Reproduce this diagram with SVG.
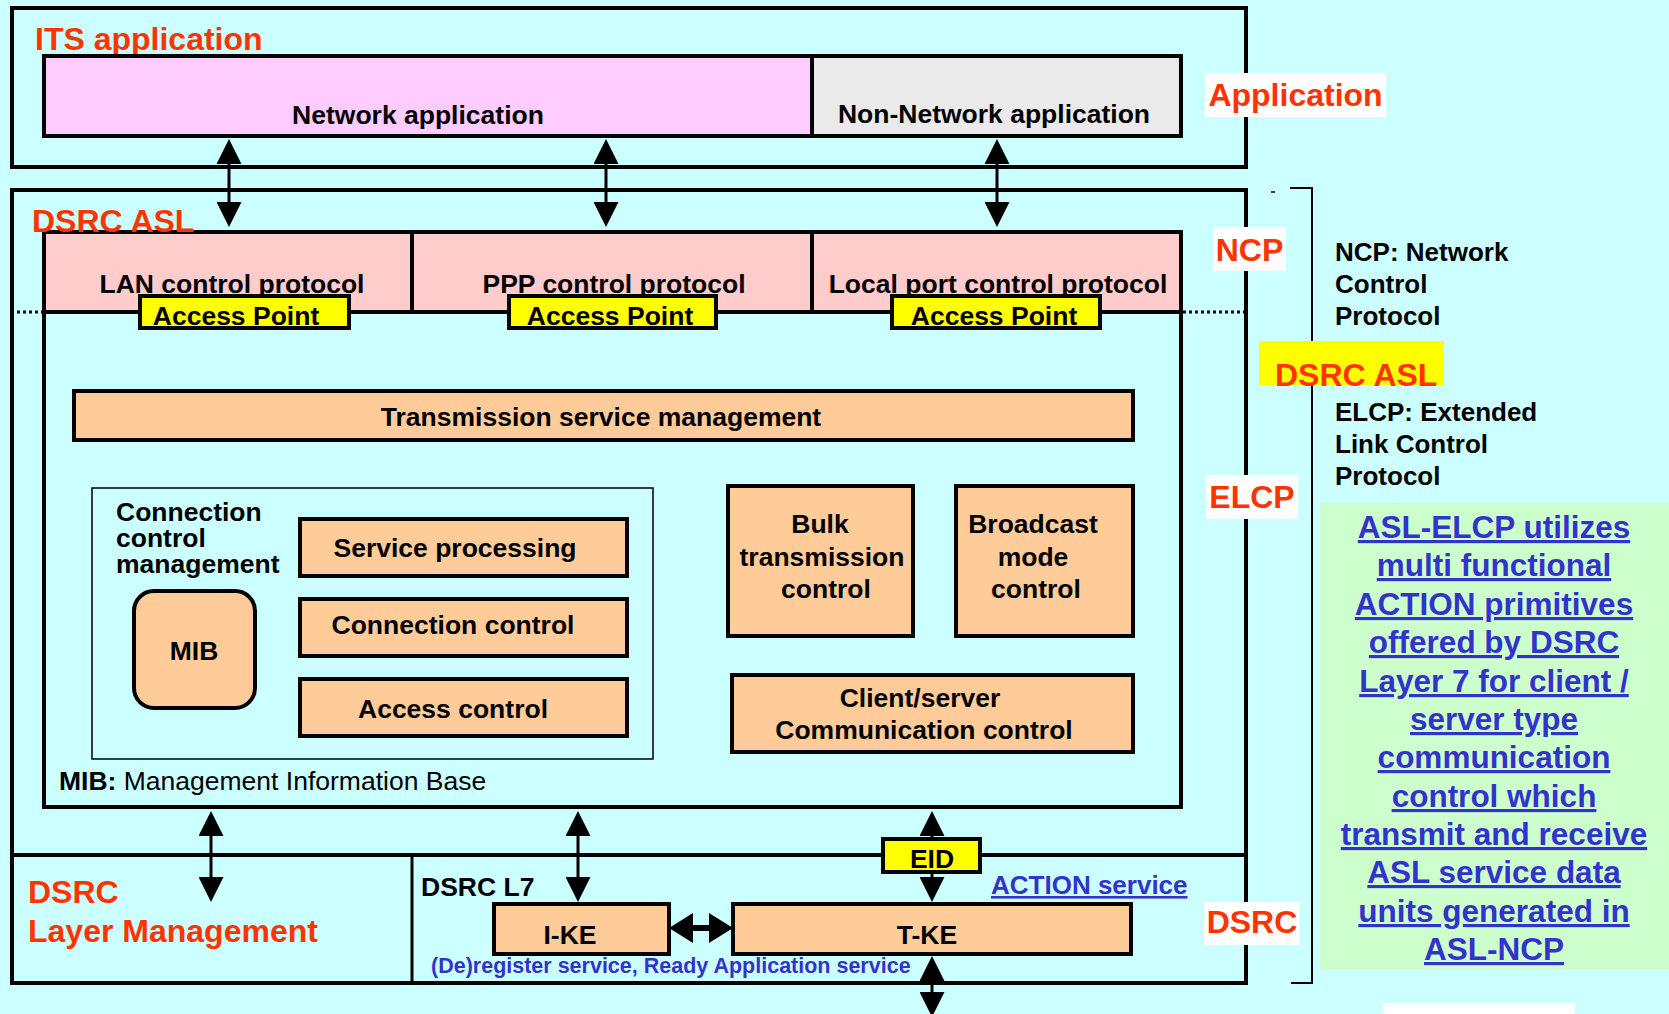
<svg xmlns="http://www.w3.org/2000/svg" width="1669" height="1014" viewBox="0 0 1669 1014">
  <style>
    text { font-family: "Liberation Sans", Arial, Helvetica, sans-serif; font-weight: bold; }
    .box { stroke: #000; stroke-width: 4; }
    .peach { fill: #FFCC99; }
    .yellow { fill: #FFFF00; }
    .lbl { font-size: 26.5px; fill: #000; }
    .red { font-size: 32px; fill: #FF3300; }
    .blue { fill: #3333CC; }
    .note { font-size: 26px; fill: #000; }
    .link { font-size: 31.5px; fill: #3333CC; text-decoration: underline; }
    .arrow { stroke: #000; stroke-width: 3; fill: none; marker-start: url(#ah); marker-end: url(#ah); }
    .harrow { stroke: #000; stroke-width: 6; fill: none; marker-start: url(#ah2); marker-end: url(#ah2); }
  </style>
  <defs>
    <marker id="ah" markerUnits="userSpaceOnUse" markerWidth="25" markerHeight="25" refX="1" refY="12.5" orient="auto-start-reverse">
      <path d="M0,0 L25,12.5 L0,25 z" fill="#000"/>
    </marker>
    <marker id="ah2" markerUnits="userSpaceOnUse" markerWidth="24" markerHeight="30" refX="1" refY="15" orient="auto-start-reverse">
      <path d="M0,0 L24,15 L0,30 z" fill="#000"/>
    </marker>
  </defs>

  <!-- background -->
  <rect x="0" y="0" width="1669" height="1014" fill="#CCFFFF"/>

  <!-- application layer frame -->
  <g id="its-application">
    <rect x="12" y="8" width="1234" height="159" fill="none" class="box"/>
    <text x="35" y="50" class="red">ITS application</text>
  </g>
  <g id="network-application">
    <rect x="44" y="56" width="768" height="80" fill="#FFCCFF" class="box"/>
    <text x="418" y="124" class="lbl" text-anchor="middle">Network application</text>
  </g>
  <g id="non-network-application">
    <rect x="812" y="56" width="369" height="80" fill="#EAEAEA" class="box"/>
    <text x="994" y="123" class="lbl" text-anchor="middle">Non-Network application</text>
  </g>

  <!-- DSRC ASL frame -->
  <g id="dsrc-asl">
    <rect x="12" y="190" width="1234" height="793" fill="none" class="box"/>
    <line x1="12" y1="855" x2="1246" y2="855" stroke="#000" stroke-width="4"/>
    <line x1="412" y1="855" x2="412" y2="983" stroke="#000" stroke-width="3"/>
  </g>

  <!-- ELCP inner box with NCP row -->
  <g id="elcp">
    <rect x="44" y="312" width="1137" height="495" fill="none" class="box"/>
    <line x1="17" y1="312" x2="44" y2="312" stroke="#000" stroke-width="3" stroke-dasharray="3,3"/>
    <line x1="1183" y1="312" x2="1246" y2="312" stroke="#000" stroke-width="3" stroke-dasharray="3,3"/>
  </g>
  <g id="lan-cp">
    <rect x="44" y="232" width="368" height="80" fill="#FFCCCC" class="box"/>
    <text x="232" y="293" class="lbl" text-anchor="middle">LAN control protocol</text>
  </g>
  <g id="ppp-cp">
    <rect x="412" y="232" width="400" height="80" fill="#FFCCCC" class="box"/>
    <text x="614" y="293" class="lbl" text-anchor="middle">PPP control protocol</text>
  </g>
  <g id="local-port-cp">
    <rect x="812" y="232" width="369" height="80" fill="#FFCCCC" class="box"/>
    <text x="998" y="293" class="lbl" text-anchor="middle">Local port control protocol</text>
  </g>
  <text x="32" y="232" class="red">DSRC ASL</text>

  <g id="ap-lan">
    <rect x="140" y="296" width="209" height="32" class="yellow box"/>
    <text x="236" y="325" class="lbl" text-anchor="middle">Access Point</text>
  </g>
  <g id="ap-ppp">
    <rect x="509" y="296" width="207" height="32" class="yellow box"/>
    <text x="610" y="325" class="lbl" text-anchor="middle">Access Point</text>
  </g>
  <g id="ap-local">
    <rect x="892" y="296" width="208" height="32" class="yellow box"/>
    <text x="994" y="325" class="lbl" text-anchor="middle">Access Point</text>
  </g>

  <g id="transmission-mgmt">
    <rect x="74" y="391" width="1059" height="49" class="peach box"/>
    <text x="601" y="426" class="lbl" text-anchor="middle">Transmission service management</text>
  </g>

  <g id="connection-mgmt">
    <rect x="92" y="488" width="561" height="271" fill="none" stroke="#000" stroke-width="1.5"/>
    <text x="116" y="521" class="lbl" font-size="25">Connection</text>
    <text x="116" y="547" class="lbl" font-size="25">control</text>
    <text x="116" y="573" class="lbl" font-size="25">management</text>
  </g>
  <g id="service-processing">
    <rect x="300" y="519" width="327" height="57" class="peach box"/>
    <text x="455" y="557" class="lbl" text-anchor="middle">Service processing</text>
  </g>
  <g id="connection-control">
    <rect x="300" y="599" width="327" height="57" class="peach box"/>
    <text x="453" y="634" class="lbl" text-anchor="middle">Connection control</text>
  </g>
  <g id="access-control">
    <rect x="300" y="679" width="327" height="57" class="peach box"/>
    <text x="453" y="718" class="lbl" text-anchor="middle">Access control</text>
  </g>
  <g id="mib">
    <rect x="134" y="591" width="121" height="117" rx="20" ry="20" class="peach box"/>
    <text x="194" y="660" class="lbl" text-anchor="middle">MIB</text>
  </g>
  <text x="59" y="790" class="lbl">MIB: <tspan font-weight="normal">Management Information Base</tspan></text>

  <g id="bulk-transmission">
    <rect x="728" y="486" width="185" height="150" class="peach box"/>
    <text x="820" y="533" class="lbl" text-anchor="middle">Bulk</text>
    <text x="822" y="566" class="lbl" text-anchor="middle">transmission</text>
    <text x="826" y="598" class="lbl" text-anchor="middle">control</text>
  </g>
  <g id="broadcast-mode">
    <rect x="956" y="486" width="177" height="150" class="peach box"/>
    <text x="1033" y="533" class="lbl" text-anchor="middle">Broadcast</text>
    <text x="1033" y="566" class="lbl" text-anchor="middle">mode</text>
    <text x="1036" y="598" class="lbl" text-anchor="middle">control</text>
  </g>
  <g id="client-server">
    <rect x="732" y="675" width="401" height="77" class="peach box"/>
    <text x="920" y="707" class="lbl" text-anchor="middle">Client/server</text>
    <text x="924" y="739" class="lbl" text-anchor="middle">Communication control</text>
  </g>

  <!-- lower section -->
  <g id="layer-management">
    <text x="28" y="903" class="red">DSRC</text>
    <text x="28" y="942" class="red">Layer Management</text>
  </g>
  <text x="421" y="896" class="lbl" font-size="29">DSRC L7</text>
  <g id="i-ke">
    <rect x="494" y="904" width="175" height="50" class="peach box"/>
    <text x="570" y="944" class="lbl" text-anchor="middle">I-KE</text>
  </g>
  <g id="t-ke">
    <rect x="733" y="904" width="398" height="50" class="peach box"/>
    <text x="927" y="944" class="lbl" text-anchor="middle">T-KE</text>
  </g>
  <text x="431" y="973" class="blue" font-size="21.5">(De)register service, Ready Application service</text>
  <text x="991" y="894" class="blue" font-size="26" text-decoration="underline">ACTION service</text>

  <!-- connectors -->
  <g id="connectors">
    <line x1="229" y1="163" x2="229" y2="203" class="arrow"/>
    <line x1="606" y1="163" x2="606" y2="203" class="arrow"/>
    <line x1="997" y1="163" x2="997" y2="203" class="arrow"/>
    <line x1="211" y1="835" x2="211" y2="878" class="arrow"/>
    <line x1="578" y1="835" x2="578" y2="878" class="arrow"/>
    <line x1="932" y1="835" x2="932" y2="878" class="arrow"/>
    <line x1="932" y1="980" x2="932" y2="993" class="arrow"/>
    <line x1="692" y1="928" x2="710" y2="928" class="harrow"/>
  </g>

  <g id="eid">
    <rect x="883" y="839" width="97" height="33" class="yellow box"/>
    <text x="932" y="868" class="lbl" text-anchor="middle">EID</text>
  </g>

  <!-- layer labels -->
  <g id="label-application">
    <rect x="1205" y="73" width="181" height="44" fill="#FFFFFF"/>
    <text x="1295.5" y="106" class="red" text-anchor="middle">Application</text>
  </g>
  <g id="label-ncp">
    <rect x="1213" y="227" width="73" height="44" fill="#FFFFFF"/>
    <text x="1249.5" y="261" class="red" text-anchor="middle">NCP</text>
  </g>
  <g id="label-elcp">
    <rect x="1206" y="475" width="92" height="44" fill="#FFFFFF"/>
    <text x="1252" y="508" class="red" text-anchor="middle">ELCP</text>
  </g>
  <g id="label-dsrc">
    <rect x="1204" y="902" width="96" height="43" fill="#FFFFFF"/>
    <text x="1252" y="933" class="red" text-anchor="middle">DSRC</text>
  </g>

  <!-- bracket -->
  <g id="bracket">
    <path d="M1290,188 H1312 V983 H1291" fill="none" stroke="#000" stroke-width="2"/>
    <line x1="1271" y1="192" x2="1275" y2="192" stroke="#000" stroke-width="1.5"/>
  </g>

  <g id="ncp-note">
    <text x="1335" y="261" class="note">NCP: Network</text>
    <text x="1335" y="293" class="note">Control</text>
    <text x="1335" y="325" class="note">Protocol</text>
  </g>
  <g id="label-dsrc-asl">
    <rect x="1259" y="341" width="185" height="44" fill="#FFFF00"/>
    <text x="1275" y="386" class="red">DSRC ASL</text>
  </g>
  <g id="elcp-note">
    <text x="1335" y="421" class="note">ELCP: Extended</text>
    <text x="1335" y="453" class="note">Link Control</text>
    <text x="1335" y="485" class="note">Protocol</text>
  </g>

  <g id="elcp-description">
    <rect x="1320" y="503" width="349" height="466" fill="#CCFFCC"/>
    <text class="link" text-anchor="middle" x="1494" y="538">ASL-ELCP utilizes</text>
    <text class="link" text-anchor="middle" x="1494" y="576">multi functional</text>
    <text class="link" text-anchor="middle" x="1494" y="615">ACTION primitives</text>
    <text class="link" text-anchor="middle" x="1494" y="653">offered by DSRC</text>
    <text class="link" text-anchor="middle" x="1494" y="692">Layer 7 for client /</text>
    <text class="link" text-anchor="middle" x="1494" y="730">server type</text>
    <text class="link" text-anchor="middle" x="1494" y="768">communication</text>
    <text class="link" text-anchor="middle" x="1494" y="807">control which</text>
    <text class="link" text-anchor="middle" x="1494" y="845">transmit and receive</text>
    <text class="link" text-anchor="middle" x="1494" y="883">ASL service data</text>
    <text class="link" text-anchor="middle" x="1494" y="922">units generated in</text>
    <text class="link" text-anchor="middle" x="1494" y="960">ASL-NCP</text>
  </g>

  <rect x="1383" y="1003" width="192" height="11" fill="#FFFFFF"/>
</svg>
